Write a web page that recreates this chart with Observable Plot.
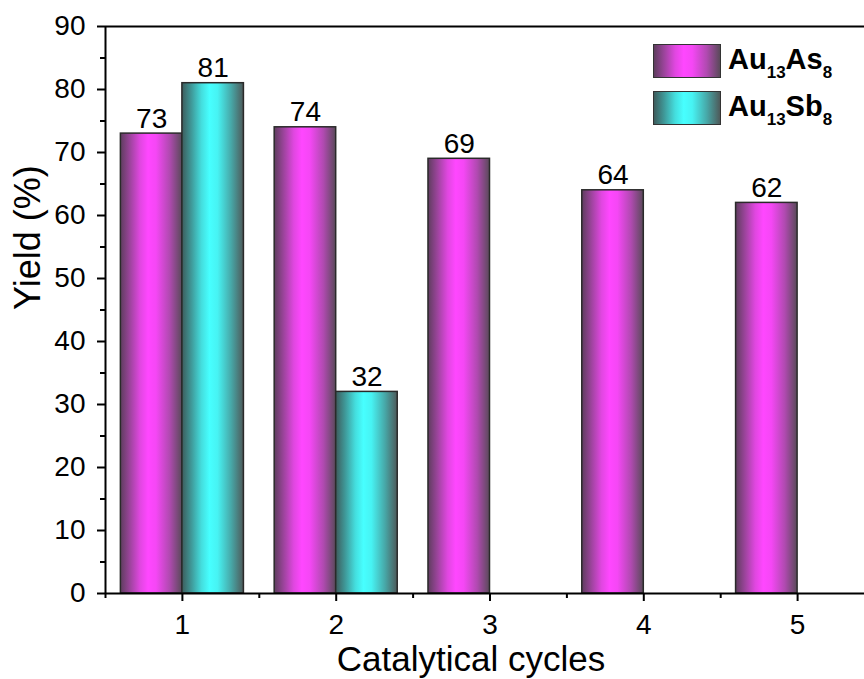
<!DOCTYPE html>
<html>
<head>
<meta charset="utf-8">
<script src="https://cdn.jsdelivr.net/npm/d3@7"></script>
<script src="https://cdn.jsdelivr.net/npm/@observablehq/plot@0.6"></script>
<style>
  html, body { margin: 0; padding: 0; background: #fff; overflow: hidden; }
  #wrap { position: relative; width: 864px; height: 679px; font-family: "Liberation Sans", Arial, sans-serif; }
  #legend { position: absolute; left: 653px; top: 44px; }
  .item { display: flex; align-items: center; height: 34px; margin-bottom: 13px; }
  .sw { width: 66px; height: 32px; border: 1.5px solid #333; }
  .lab { margin-left: 7px; font-weight: bold; font-size: 29px; color: #000; line-height: 1; position: relative; top: -2px; }
  .lab sub { font-size: 17px; vertical-align: -0.55em; line-height: 0; }
</style>
</head>
<body>
<div id="wrap">
  <div id="chart"></div>
  <div id="legend"></div>
</div>
<script>
// Catalytic yields over repeated cycles
const cycles = [1, 2, 3, 4, 5];
const yieldAs = [73, 74, 69, 64, 62];
const yieldSb = [81, 32, null, null, null];
const seriesNames = ["Au13As8", "Au13Sb8"];
const seriesLabels = ["Au<sub>13</sub>As<sub>8</sub>", "Au<sub>13</sub>Sb<sub>8</sub>"];
const yTicks = d3.range(0, 91, 10);
const yMinor = d3.range(5, 90, 10);
const xMinor = d3.range(0.5, 5.6, 1);

// shading stops for the cylinder-like bars
const gradients = {
  As: ["#5e3d5e", "#9a449a", "#e047e0", "#ff47ff", "#f547f5", "#b04ab0", "#5a4a5a"],
  Sb: ["#3d5c5c", "#3f9797", "#44dede", "#47ffff", "#47f3f3", "#47a8a8", "#4e5a5a"]
};
const stopOffsets = [0, 0.15, 0.32, 0.45, 0.58, 0.8, 1];

const groupWidth = 0.8;
const half = groupWidth / 2;
const rows = [];
cycles.forEach((c, i) => {
  rows.push({cycle: c, series: seriesNames[0], key: "As", value: yieldAs[i], x1: c - half, x2: c});
  if (yieldSb[i] != null) rows.push({cycle: c, series: seriesNames[1], key: "Sb", value: yieldSb[i], x1: c, x2: c + half});
});

function gradientDefs() {
  const ns = "http://www.w3.org/2000/svg";
  const defs = document.createElementNS(ns, "defs");
  for (const [key, cols] of Object.entries(gradients)) {
    const g = document.createElementNS(ns, "linearGradient");
    g.setAttribute("id", "grad" + key);
    g.setAttribute("x1", "0"); g.setAttribute("x2", "1");
    g.setAttribute("y1", "0"); g.setAttribute("y2", "0");
    cols.forEach((c, j) => {
      const s = document.createElementNS(ns, "stop");
      s.setAttribute("offset", stopOffsets[j]);
      s.setAttribute("stop-color", c);
      g.appendChild(s);
    });
    defs.appendChild(g);
  }
  return defs;
}

const font = "Liberation Sans, Arial, sans-serif";

const chart = Plot.plot({
  width: 864,
  height: 679,
  marginTop: 26,
  marginBottom: 86,
  marginLeft: 105,
  marginRight: 0,
  style: {fontFamily: font, color: "#000", background: "#fff"},
  x: {type: "linear", domain: [0.5, 5.5], range: [105, 874]},
  y: {domain: [0, 90]},
  marks: [
    gradientDefs,
    Plot.rectY(rows, {
      x1: "x1", x2: "x2", y1: 0, y2: "value",
      fill: d => `url(#grad${d.key})`,
      stroke: "#2a2a2a", strokeWidth: 1.5
    }),
    Plot.text(rows, {
      x: d => (d.x1 + d.x2) / 2, y: "value", text: d => String(d.value),
      lineAnchor: "bottom", dy: -6, fontSize: 28, fill: "#000"
    }),
    // axis lines
    Plot.ruleX([0.5], {stroke: "#000", strokeWidth: 2}),
    Plot.ruleY([0], {stroke: "#000", strokeWidth: 2}),
    Plot.ruleY([90], {stroke: "#000", strokeWidth: 2}),
    Plot.axisY({ticks: yTicks, tickSize: 8, tickPadding: 12, fontSize: 28, strokeWidth: 2, label: null}),
    Plot.axisY({ticks: yMinor, tickSize: 5, text: null, strokeWidth: 2, label: null}),
    Plot.axisX({ticks: cycles, tickSize: 8, tickPadding: 13, fontSize: 28, strokeWidth: 2, label: null, tickFormat: d => String(d)}),
    Plot.axisX({ticks: xMinor, tickSize: 5, text: null, strokeWidth: 2, label: null}),
    // axis titles
    Plot.text(["Catalytical cycles"], {
      frameAnchor: "bottom", text: d => d, lineAnchor: "bottom",
      dy: 77, dx: -14, fontSize: 35, fill: "#000"
    }),
    Plot.text(["Yield (%)"], {
      frameAnchor: "left", text: d => d, rotate: -90, lineAnchor: "middle",
      dx: -77, fontSize: 36, fill: "#000"
    })
  ]
});
document.getElementById("chart").appendChild(chart);

// legend
const legend = document.getElementById("legend");
["As", "Sb"].forEach((key, i) => {
  const item = document.createElement("div");
  item.className = "item";
  const sw = document.createElement("div");
  sw.className = "sw";
  sw.style.background = `linear-gradient(to right, ${gradients[key].map((c, j) => `${c} ${stopOffsets[j] * 100}%`).join(", ")})`;
  const lab = document.createElement("div");
  lab.className = "lab";
  lab.innerHTML = seriesLabels[i];
  item.appendChild(sw);
  item.appendChild(lab);
  legend.appendChild(item);
});
</script>
</body>
</html>
